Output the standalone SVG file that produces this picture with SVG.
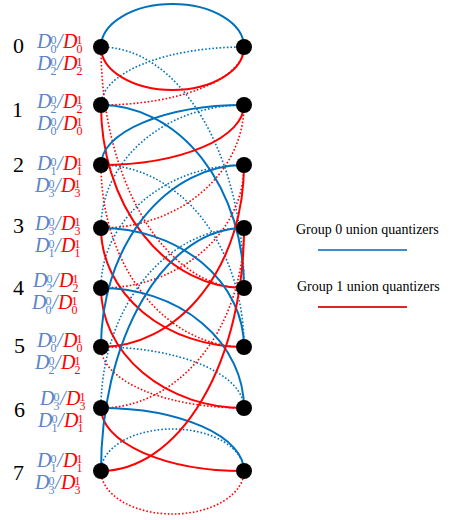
<svg xmlns="http://www.w3.org/2000/svg" width="449" height="520" viewBox="0 0 449 520">
<style>
.b{fill:none;stroke:#0072BD;stroke-width:2}
.r{fill:none;stroke:#FF0000;stroke-width:2}
.bd{fill:none;stroke:#0072BD;stroke-width:1.6;stroke-dasharray:1.6 2}
.rd{fill:none;stroke:#FF0000;stroke-width:1.6;stroke-dasharray:1.6 2}
.n{fill:#000}
.num{font-family:"Liberation Serif",serif;font-size:22px;fill:#000}
.D{font-family:"Liberation Serif",serif;font-style:italic;font-size:20px}
.s{font-style:normal;font-size:12px}
.lb{fill:#5B85C5}
.lr{fill:#FF0000}
.leg{font-family:"Liberation Serif",serif;font-size:14px;fill:#000}
</style>
<g id="connectors">
<path class="bd" d="M101 105 A143 58 0 0 1 244 47"/>
<path class="rd" d="M101 105 A143 58 0 0 0 244 47"/>
<path class="bd" d="M101 47 A143 241 0 0 1 244 288"/>
<path class="rd" d="M101 47 A143 241 0 0 0 244 288"/>
<path class="bd" d="M101 228 A143 123 0 0 1 244 105"/>
<path class="rd" d="M101 228 A143 123 0 0 0 244 105"/>
<path class="bd" d="M101 165 A143 182 0 0 1 244 347"/>
<path class="rd" d="M101 165 A143 182 0 0 0 244 347"/>
<path class="bd" d="M101 288 A143 123 0 0 1 244 165"/>
<path class="rd" d="M101 288 A143 123 0 0 0 244 165"/>
<path class="bd" d="M101 347 A143 61 0 0 1 244 408"/>
<path class="rd" d="M101 347 A143 61 0 0 0 244 408"/>
<path class="bd" d="M101 408 A143 180 0 0 1 244 228"/>
<path class="rd" d="M101 408 A143 180 0 0 0 244 228"/>
<path class="bd" d="M101 471 A71.5 42 0 0 1 244 471"/>
<path class="rd" d="M101 471 A71.5 43 0 0 0 244 471"/>
<path class="b" d="M101 47 A71.5 43 0 0 1 244 47"/>
<path class="r" d="M101 47 A71.5 43 0 0 0 244 47"/>
<path class="b" d="M101 105 A143 183 0 0 1 244 288"/>
<path class="r" d="M101 105 A143 183 0 0 0 244 288"/>
<path class="b" d="M101 165 A143 60 0 0 1 244 105"/>
<path class="r" d="M101 165 A143 60 0 0 0 244 105"/>
<path class="b" d="M101 228 A143 119 0 0 1 244 347"/>
<path class="r" d="M101 228 A143 119 0 0 0 244 347"/>
<path class="b" d="M101 288 A143 120 0 0 1 244 408"/>
<path class="r" d="M101 288 A143 120 0 0 0 244 408"/>
<path class="b" d="M101 347 A143 182 0 0 1 244 165"/>
<path class="r" d="M101 347 A143 182 0 0 0 244 165"/>
<path class="b" d="M101 408 A143 63 0 0 1 244 471"/>
<path class="r" d="M101 408 A143 63 0 0 0 244 471"/>
<path class="b" d="M101 471 A143 243 0 0 1 244 228"/>
<path class="r" d="M101 471 A143 243 0 0 0 244 228"/>
</g>
<g id="left-nodes">
<circle id="L0" class="n" cx="101" cy="47" r="8"/>
<circle id="L1" class="n" cx="101" cy="105" r="8"/>
<circle id="L2" class="n" cx="101" cy="165" r="8"/>
<circle id="L3" class="n" cx="101" cy="228" r="8"/>
<circle id="L4" class="n" cx="101" cy="288" r="8"/>
<circle id="L5" class="n" cx="101" cy="347" r="8"/>
<circle id="L6" class="n" cx="101" cy="408" r="8"/>
<circle id="L7" class="n" cx="101" cy="471" r="8"/>
</g>
<g id="right-nodes">
<circle id="R0" class="n" cx="244" cy="47" r="8"/>
<circle id="R1" class="n" cx="244" cy="105" r="8"/>
<circle id="R2" class="n" cx="244" cy="165" r="8"/>
<circle id="R3" class="n" cx="244" cy="228" r="8"/>
<circle id="R4" class="n" cx="244" cy="288" r="8"/>
<circle id="R5" class="n" cx="244" cy="347" r="8"/>
<circle id="R6" class="n" cx="244" cy="408" r="8"/>
<circle id="R7" class="n" cx="244" cy="471" r="8"/>
</g>
<g id="state-numbers">
<text class="num" x="13" y="53">0</text>
<text class="num" x="12" y="117">1</text>
<text class="num" x="13" y="172">2</text>
<text class="num" x="13" y="233">3</text>
<text class="num" x="13" y="295">4</text>
<text class="num" x="14" y="353">5</text>
<text class="num" x="14" y="417">6</text>
<text class="num" x="13" y="480">7</text>
</g>
<g id="labels">
<text id="lab0" class="D"><tspan class="lb" x="37" y="48">D</tspan><tspan class="s lb" x="50.5" y="44">0</tspan><tspan class="s lb" x="50.5" y="53">0</tspan><tspan class="lb" x="57" y="48">/</tspan><tspan class="lr" x="63" y="48">D</tspan><tspan class="s lr" x="76.5" y="44">1</tspan><tspan class="s lr" x="76.5" y="53">0</tspan><tspan class="lb" x="37" y="70">D</tspan><tspan class="s lb" x="50.5" y="66">0</tspan><tspan class="s lb" x="50.5" y="75">2</tspan><tspan class="lb" x="57" y="70">/</tspan><tspan class="lr" x="63" y="70">D</tspan><tspan class="s lr" x="76.5" y="66">1</tspan><tspan class="s lr" x="76.5" y="75">2</tspan></text>
<text id="lab1" class="D"><tspan class="lb" x="37" y="108">D</tspan><tspan class="s lb" x="50.5" y="104">0</tspan><tspan class="s lb" x="50.5" y="113">2</tspan><tspan class="lb" x="57" y="108">/</tspan><tspan class="lr" x="63" y="108">D</tspan><tspan class="s lr" x="76.5" y="104">1</tspan><tspan class="s lr" x="76.5" y="113">2</tspan><tspan class="lb" x="37" y="130">D</tspan><tspan class="s lb" x="50.5" y="126">0</tspan><tspan class="s lb" x="50.5" y="135">0</tspan><tspan class="lb" x="57" y="130">/</tspan><tspan class="lr" x="63" y="130">D</tspan><tspan class="s lr" x="76.5" y="126">1</tspan><tspan class="s lr" x="76.5" y="135">0</tspan></text>
<text id="lab2" class="D"><tspan class="lb" x="37" y="170">D</tspan><tspan class="s lb" x="50.5" y="166">0</tspan><tspan class="s lb" x="50.5" y="175">1</tspan><tspan class="lb" x="57" y="170">/</tspan><tspan class="lr" x="63" y="170">D</tspan><tspan class="s lr" x="76.5" y="166">1</tspan><tspan class="s lr" x="76.5" y="175">1</tspan><tspan class="lb" x="35" y="192">D</tspan><tspan class="s lb" x="48.5" y="188">0</tspan><tspan class="s lb" x="48.5" y="197">3</tspan><tspan class="lb" x="55" y="192">/</tspan><tspan class="lr" x="61" y="192">D</tspan><tspan class="s lr" x="74.5" y="188">1</tspan><tspan class="s lr" x="74.5" y="197">3</tspan></text>
<text id="lab3" class="D"><tspan class="lb" x="35" y="230">D</tspan><tspan class="s lb" x="48.5" y="226">0</tspan><tspan class="s lb" x="48.5" y="235">3</tspan><tspan class="lb" x="55" y="230">/</tspan><tspan class="lr" x="61" y="230">D</tspan><tspan class="s lr" x="74.5" y="226">1</tspan><tspan class="s lr" x="74.5" y="235">3</tspan><tspan class="lb" x="35" y="252">D</tspan><tspan class="s lb" x="48.5" y="248">0</tspan><tspan class="s lb" x="48.5" y="257">1</tspan><tspan class="lb" x="55" y="252">/</tspan><tspan class="lr" x="61" y="252">D</tspan><tspan class="s lr" x="74.5" y="248">1</tspan><tspan class="s lr" x="74.5" y="257">1</tspan></text>
<text id="lab4" class="D"><tspan class="lb" x="33" y="287">D</tspan><tspan class="s lb" x="46.5" y="283">0</tspan><tspan class="s lb" x="46.5" y="292">2</tspan><tspan class="lb" x="53" y="287">/</tspan><tspan class="lr" x="59" y="287">D</tspan><tspan class="s lr" x="72.5" y="283">1</tspan><tspan class="s lr" x="72.5" y="292">2</tspan><tspan class="lb" x="32" y="309">D</tspan><tspan class="s lb" x="45.5" y="305">0</tspan><tspan class="s lb" x="45.5" y="314">0</tspan><tspan class="lb" x="52" y="309">/</tspan><tspan class="lr" x="58" y="309">D</tspan><tspan class="s lr" x="71.5" y="305">1</tspan><tspan class="s lr" x="71.5" y="314">0</tspan></text>
<text id="lab5" class="D"><tspan class="lb" x="37" y="347">D</tspan><tspan class="s lb" x="50.5" y="343">0</tspan><tspan class="s lb" x="50.5" y="352">0</tspan><tspan class="lb" x="57" y="347">/</tspan><tspan class="lr" x="63" y="347">D</tspan><tspan class="s lr" x="76.5" y="343">1</tspan><tspan class="s lr" x="76.5" y="352">0</tspan><tspan class="lb" x="35" y="369">D</tspan><tspan class="s lb" x="48.5" y="365">0</tspan><tspan class="s lb" x="48.5" y="374">2</tspan><tspan class="lb" x="55" y="369">/</tspan><tspan class="lr" x="61" y="369">D</tspan><tspan class="s lr" x="74.5" y="365">1</tspan><tspan class="s lr" x="74.5" y="374">2</tspan></text>
<text id="lab6" class="D"><tspan class="lb" x="40" y="405">D</tspan><tspan class="s lb" x="53.5" y="401">0</tspan><tspan class="s lb" x="53.5" y="410">3</tspan><tspan class="lb" x="60" y="405">/</tspan><tspan class="lr" x="66" y="405">D</tspan><tspan class="s lr" x="79.5" y="401">1</tspan><tspan class="s lr" x="79.5" y="410">3</tspan><tspan class="lb" x="38" y="427">D</tspan><tspan class="s lb" x="51.5" y="423">0</tspan><tspan class="s lb" x="51.5" y="432">1</tspan><tspan class="lb" x="58" y="427">/</tspan><tspan class="lr" x="64" y="427">D</tspan><tspan class="s lr" x="77.5" y="423">1</tspan><tspan class="s lr" x="77.5" y="432">1</tspan></text>
<text id="lab7" class="D"><tspan class="lb" x="37" y="467">D</tspan><tspan class="s lb" x="50.5" y="463">0</tspan><tspan class="s lb" x="50.5" y="472">1</tspan><tspan class="lb" x="57" y="467">/</tspan><tspan class="lr" x="63" y="467">D</tspan><tspan class="s lr" x="76.5" y="463">1</tspan><tspan class="s lr" x="76.5" y="472">1</tspan><tspan class="lb" x="35" y="489">D</tspan><tspan class="s lb" x="48.5" y="485">0</tspan><tspan class="s lb" x="48.5" y="494">3</tspan><tspan class="lb" x="55" y="489">/</tspan><tspan class="lr" x="61" y="489">D</tspan><tspan class="s lr" x="74.5" y="485">1</tspan><tspan class="s lr" x="74.5" y="494">3</tspan></text>
</g>
<g id="legend">
<text class="leg" x="296" y="234">Group 0 union quantizers</text>
<line x1="318" y1="250" x2="407" y2="250" stroke="#3A8DD0" stroke-width="2"/>
<text class="leg" x="297" y="291">Group 1 union quantizers</text>
<line x1="318" y1="307" x2="407" y2="307" stroke="#D42A2A" stroke-width="2"/>
</g>
</svg>
